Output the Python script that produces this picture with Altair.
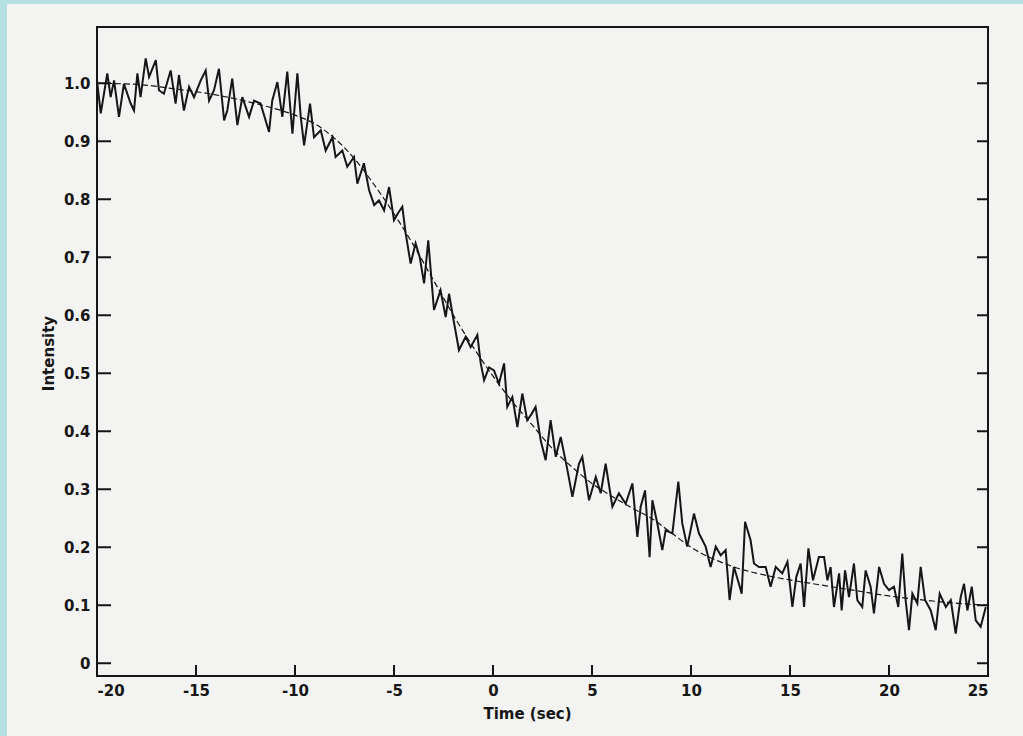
import altair as alt
import pandas as pd

# ---------------- data ----------------
time_s = [
    -20.0, -19.81, -19.48, -19.31, -19.14, -18.89, -18.64, -18.30, -18.13, -17.96,
    -17.80, -17.54, -17.37, -17.03, -16.87, -16.62, -16.28, -16.03, -15.86, -15.61,
    -15.35, -15.10, -14.76, -14.51, -14.34, -14.09, -13.84, -13.58, -13.42, -13.17,
    -12.91, -12.66, -12.32, -12.07, -11.74, -11.31, -11.15, -10.89, -10.64, -10.39,
    -10.13, -9.88, -9.71, -9.54, -9.24, -9.04, -8.70, -8.45, -8.11, -7.95,
    -7.61, -7.36, -7.02, -6.85, -6.52, -6.26, -6.00, -5.76, -5.50, -5.25,
    -5.00, -4.80, -4.58, -4.41, -4.16, -3.91, -3.70, -3.48, -3.27, -2.98,
    -2.65, -2.39, -2.22, -2.02, -1.72, -1.38, -1.13, -0.79, -0.62, -0.45,
    -0.20, 0.05, 0.30, 0.56, 0.72, 0.98, 1.23, 1.48, 1.73, 1.95,
    2.15, 2.41, 2.66, 2.91, 3.17, 3.42, 3.76, 4.01, 4.34, 4.51,
    4.85, 5.19, 5.44, 5.69, 6.03, 6.36, 6.70, 7.04, 7.29, 7.46,
    7.68, 7.91, 8.05, 8.30, 8.55, 8.72, 9.06, 9.36, 9.56, 9.81,
    10.15, 10.40, 10.74, 10.99, 11.25, 11.50, 11.75, 11.95, 12.17, 12.42,
    12.56, 12.73, 13.01, 13.18, 13.43, 13.77, 14.02, 14.28, 14.61, 14.87,
    15.12, 15.32, 15.54, 15.71, 15.93, 16.16, 16.46, 16.72, 16.89, 17.05,
    17.22, 17.48, 17.61, 17.78, 17.98, 18.23, 18.40, 18.65, 18.82, 19.07,
    19.24, 19.50, 19.75, 20.00, 20.25, 20.47, 20.67, 20.84, 21.01, 21.18,
    21.43, 21.60, 21.82, 22.11, 22.36, 22.56, 22.87, 23.12, 23.37, 23.62,
    23.79, 23.96, 24.18, 24.38, 24.63, 24.89,
]
intensity = [
    1.005, 0.948, 1.017, 0.976, 1.005, 0.942, 0.999, 0.965, 0.953, 1.017,
    0.976, 1.043, 1.011, 1.040, 0.988, 0.982, 1.022, 0.965, 1.014, 0.953,
    0.994, 0.976, 1.005, 1.022, 0.970, 0.988, 1.025, 0.936, 0.953, 1.008,
    0.928, 0.976, 0.942, 0.970, 0.965, 0.916, 0.970, 1.002, 0.942, 1.020,
    0.913, 1.017, 0.942, 0.893, 0.965, 0.907, 0.919, 0.884, 0.907, 0.873,
    0.884, 0.856, 0.873, 0.827, 0.862, 0.816, 0.790, 0.798, 0.781, 0.821,
    0.764, 0.776, 0.787, 0.741, 0.689, 0.724, 0.700, 0.655, 0.729, 0.609,
    0.643, 0.597, 0.637, 0.597, 0.540, 0.563, 0.545, 0.566, 0.517, 0.488,
    0.510, 0.505, 0.482, 0.517, 0.442, 0.459, 0.407, 0.465, 0.419, 0.430,
    0.442, 0.384, 0.350, 0.419, 0.356, 0.390, 0.333, 0.287, 0.344, 0.356,
    0.281, 0.321, 0.293, 0.344, 0.270, 0.293, 0.275, 0.310, 0.218, 0.270,
    0.298, 0.183, 0.281, 0.241, 0.195, 0.229, 0.224, 0.313, 0.241, 0.201,
    0.258, 0.224, 0.201, 0.166, 0.201, 0.186, 0.195, 0.109, 0.166, 0.137,
    0.120, 0.244, 0.212, 0.172, 0.166, 0.166, 0.132, 0.166, 0.155, 0.175,
    0.097, 0.149, 0.172, 0.097, 0.198, 0.143, 0.183, 0.183, 0.143, 0.166,
    0.097, 0.155, 0.091, 0.160, 0.114, 0.172, 0.109, 0.097, 0.160, 0.132,
    0.086, 0.166, 0.137, 0.126, 0.132, 0.097, 0.189, 0.109, 0.057, 0.120,
    0.103, 0.166, 0.109, 0.091, 0.057, 0.120, 0.097, 0.109, 0.051, 0.114,
    0.137, 0.091, 0.132, 0.074, 0.063, 0.097,
]

fit_time = [-20, -18, -16, -14, -12, -10, -9, -8, -7, -6, -5, -4, -3, -2, -1, 0,
            1, 2, 3, 4, 5, 6, 7, 8, 9, 10, 12, 14, 16, 18, 20, 22, 24, 25]
fit_intensity = [1.0, 0.998, 0.99, 0.98, 0.965, 0.945, 0.93, 0.905, 0.87, 0.825,
                 0.775, 0.72, 0.66, 0.60, 0.545, 0.495, 0.45, 0.41, 0.37, 0.338,
                 0.31, 0.288, 0.268, 0.25, 0.225, 0.20, 0.168, 0.15, 0.138, 0.127,
                 0.116, 0.108, 0.102, 0.10]

x_ticks = [-20, -15, -10, -5, 0, 5, 10, 15, 20, 25]
y_ticks = [0, 0.1, 0.2, 0.3, 0.4, 0.5, 0.6, 0.7, 0.8, 0.9, 1.0]

# ---------------- layout ----------------
W, H = 891, 649
LEFT, TOP = 97, 27
X_DOMAIN = [-20, 25]
Y_DOMAIN = [-0.022, 1.097]
INK = "#161616"
PAPER = "#f3f3f1"
TEAL = "#b6dfe2"
FONT = "DejaVu Sans"

noisy = pd.DataFrame({"t": time_s, "v": intensity})
fit = pd.DataFrame({"t": fit_time, "v": fit_intensity})
yt = pd.DataFrame({"v": y_ticks})
xt = pd.DataFrame({"t": x_ticks})
one = pd.DataFrame({"a": [0]})

xs = alt.Scale(domain=X_DOMAIN, nice=False, zero=False)
ys = alt.Scale(domain=Y_DOMAIN, nice=False, zero=False)

AX_X = alt.Axis(
    values=x_ticks, title="Time (sec)", grid=False, domain=False, ticks=False,
    tickSize=0, labelPadding=7, labelFont=FONT, labelFontSize=15,
    labelFontWeight="bold", labelColor=INK, labelExpr="datum.value + ''",
    titleFont=FONT, titleFontSize=15,
    titleFontWeight="bold", titleColor=INK, titleX=430, titleY=37,
    titleBaseline="middle", titleAlign="center")
AX_Y = alt.Axis(
    values=y_ticks, title="Intensity", grid=False, domain=False, ticks=False,
    tickSize=0, labelPadding=7, labelFont=FONT, labelFontSize=15,
    labelFontWeight="bold", labelColor=INK,
    labelExpr="datum.value == 0 ? '0' : format(datum.value, '.1f')",
    titleFont=FONT, titleFontSize=15, titleFontWeight="bold", titleColor=INK,
    titleX=-49, titleY=326, titleAngle=270, titleBaseline="middle",
    titleAlign="center")

X = alt.X("t:Q", scale=xs, axis=AX_X)
Y = alt.Y("v:Q", scale=ys, axis=AX_Y)

# teal scan border (top and left strips)
top_strip = alt.Chart(one).mark_rect(color=TEAL).encode(
    x=alt.value(-LEFT), x2=alt.value(W + 40), y=alt.value(-TOP), y2=alt.value(-TOP + 4))
left_strip = alt.Chart(one).mark_rect(color=TEAL).encode(
    x=alt.value(-LEFT), x2=alt.value(-LEFT + 7), y=alt.value(-TOP), y2=alt.value(H + 70))

data_line = alt.Chart(noisy).mark_line(color=INK, strokeWidth=2.0).encode(x=X, y=Y)

fit_line = alt.Chart(fit).mark_line(
    color=INK, strokeWidth=1.2, strokeDash=[6, 3], interpolate="monotone"
).encode(x=X, y=Y)

left_ticks = alt.Chart(yt).mark_rule(color=INK, strokeWidth=2).encode(
    y=Y, x=alt.value(0), x2=alt.value(14))
right_ticks = alt.Chart(yt).mark_rule(color=INK, strokeWidth=2).encode(
    y=Y, x=alt.value(W - 11), x2=alt.value(W))
bottom_ticks = alt.Chart(xt).mark_rule(color=INK, strokeWidth=2).encode(
    x=X, y=alt.value(H), y2=alt.value(H - 11))

chart = alt.layer(
    data_line, fit_line, left_ticks, right_ticks, bottom_ticks, top_strip, left_strip
).properties(
    width=W, height=H, autosize="none",
    padding={"left": LEFT, "top": TOP, "right": 1023 - LEFT - W, "bottom": 736 - TOP - H},
    background=PAPER,
).configure_view(stroke=INK, strokeWidth=2)

chart.save("out.html", embed_options={"renderer": "svg", "actions": False})
